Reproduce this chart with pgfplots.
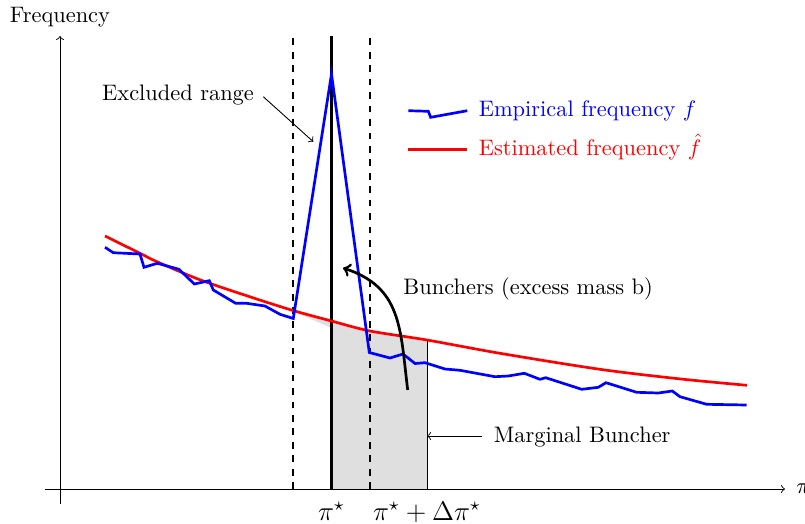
\documentclass[border=0pt]{standalone}
\usepackage{pgfplots}
\pgfplotsset{compat=1.18}
\usepgfplotslibrary{fillbetween}

\begin{document}
\begin{tikzpicture}
\begin{axis}[
  x=0.446pt, y=0.446pt,
  xmin=-60, xmax=745, ymin=-34, ymax=489,
  hide axis, clip=false,
]
% corners of the page
\coordinate (bbsw) at (axis cs:-60,-34);
\coordinate (bbne) at (axis cs:745,489);

% estimated (counterfactual) density
\addplot[draw=none, smooth, name path=est, forget plot] coordinates {
  (45,253) (80,235.7) (97,227.3) (140,209.2) (190,192.2) (233,178.5)
  (271.5,168) (310,158) (367,149) (440,135.7) (540,119.7) (620,110.1) (687,103.7)
};
\addplot[draw=none, name path=base, forget plot] coordinates {(0,0) (700,0)};
\addplot[draw=none, name path=sliver, forget plot] coordinates {(228,180) (271.5,161)};

% marginal bunchers: mass under the estimate between pi* and pi*+dpi*
\addplot[fill=gray!25, draw=none, forget plot]
  fill between[of=est and base, soft clip={domain=271.5:367}];
\addplot[fill=gray!25, draw=none, forget plot]
  fill between[of=est and sliver, soft clip={domain=233:271.5}];
\draw[thin] (axis cs:367,0) -- (axis cs:367,149);

% axes
\draw[thin,->] (axis cs:-15,0) -- (axis cs:725,0);
\draw[thin,->] (axis cs:0,-15) -- (axis cs:0,453);
\node[anchor=base, inner sep=0] at (axis cs:0,466.3) {Frequency};
\node[anchor=west, inner sep=0] at (axis cs:736,0) {$\pi$};

% kink and excluded window
\draw[thick, dashed] (axis cs:233.3,0) -- (axis cs:233.3,453);
\draw[thick, dashed] (axis cs:310,0) -- (axis cs:310,453);
\draw[very thick] (axis cs:271.5,0) -- (axis cs:271.5,453);

% estimated frequency
\addplot[very thick, red, smooth] coordinates {
  (45,253) (80,235.7) (97,227.3) (140,209.2) (190,192.2) (233,178.5)
  (271.5,168) (310,158) (367,149) (440,135.7) (540,119.7) (620,110.1) (687,103.7)
};

% empirical frequency
\addplot[very thick, blue] coordinates {
  (45,241.7) (53.3,236.3) (80,235) (84,221.7) (97.3,225.7) (119,219.7)
  (134.3,205) (149.3,208.3) (153.3,199) (175.7,185.7) (186.7,185.7)
  (205,183) (220,174.7) (233.3,170.5) (271.5,415) (309.3,136.5)
  (330,131) (343,135) (355,125.5) (365,126.3) (385,120) (400,118.7)
  (435,112.3) (448.3,113) (464.3,115.7) (480,109.7) (485.7,111.3)
  (521.7,99.7) (538.3,101.7) (546,106.3) (576.7,96.7) (598.3,96)
  (612.3,98) (620,92.3) (646.7,84.7) (686.7,84)
};

% legend
\addplot[very thick, blue, forget plot] coordinates {(348.3,378.3) (368.3,377.7) (370.7,371.7) (407.3,378.3)};
\node[anchor=base west, inner sep=0, blue] at (axis cs:418.3,372.3) {Empirical frequency $f$};
\addplot[very thick, red, forget plot] coordinates {(348.3,339.7) (407.3,339.7)};
\node[anchor=base west, inner sep=0, red] at (axis cs:418.3,333.3) {Estimated frequency $\hat{f}$};

% annotations
\node[anchor=base west, inner sep=0] at (axis cs:41.7,389) {Excluded range};
\draw[thin,->] (axis cs:203.3,392.3) -- (axis cs:253.3,347.3);
\node[anchor=base west, inner sep=0] at (axis cs:343,194.7) {Bunchers (excess mass b)};
\draw[very thick,->] (axis cs:347.7,99) to[out=97, in=-18, looseness=1.15] (axis cs:283,221);
\node[anchor=base west, inner sep=0] at (axis cs:433.3,46.7) {Marginal Buncher};
\draw[thin,->] (axis cs:422,53) -- (axis cs:367,53);

% tick labels
\node[anchor=base, inner sep=0] at (axis cs:271.5,-31) {\large $\pi^{\star}$};
\node[anchor=base, inner sep=0] at (axis cs:367,-31) {\large $\pi^{\star}+\Delta\pi^{\star}$};
\end{axis}
\pgfresetboundingbox
\useasboundingbox (bbsw) rectangle (bbne);
\end{tikzpicture}
\end{document}
